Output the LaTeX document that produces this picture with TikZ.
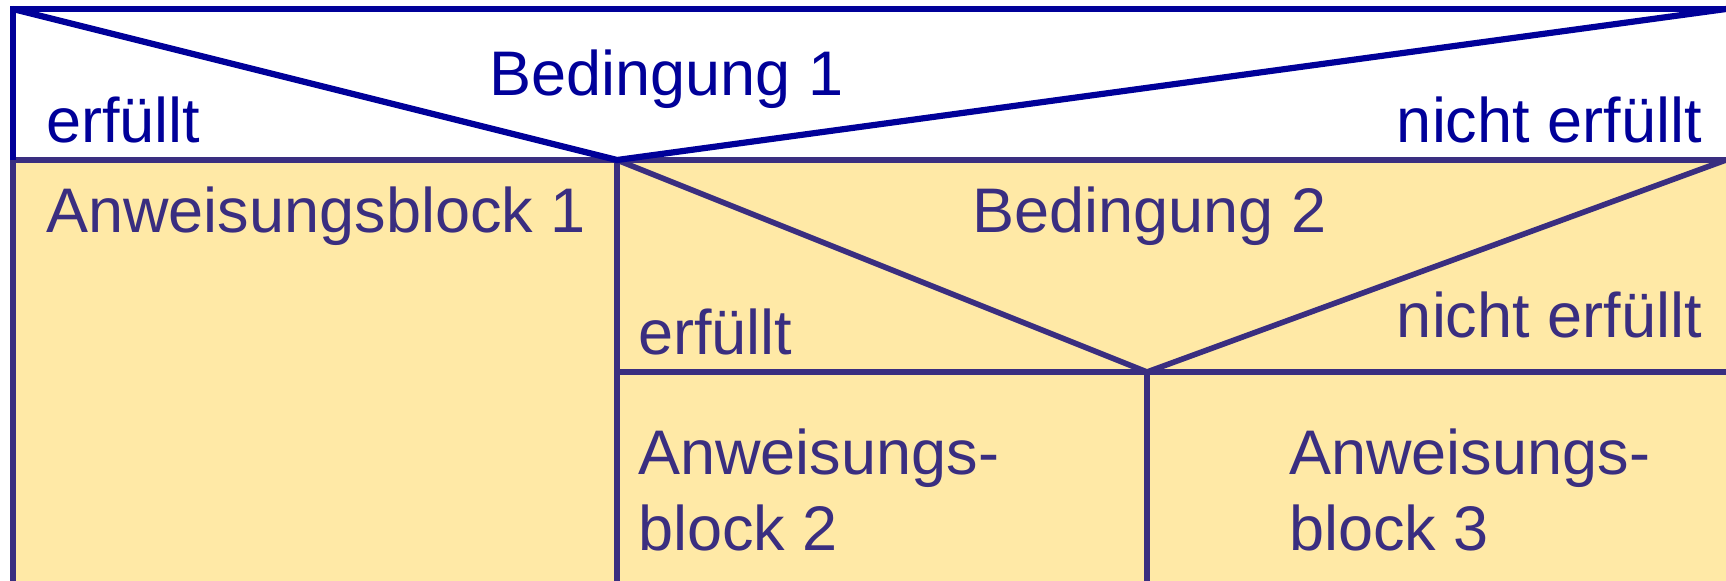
\documentclass[tikz,border=0pt]{standalone}
\usepackage{fontspec}
\setmainfont{Liberation Sans}
\definecolor{topblue}{HTML}{000099}
\definecolor{lowblue}{HTML}{3A2E80}
\definecolor{fillyellow}{HTML}{FFE9A6}
\begin{document}
\begin{tikzpicture}[x=0.5pt,y=-0.5pt,
  topline/.style={draw=topblue,line width=3.1pt,line join=miter},
  lowline/.style={draw=lowblue,line width=2.8pt,line join=miter},
  toptext/.style={text=topblue,inner sep=0pt,font=\fontsize{31.5pt}{37.5pt}\selectfont},
  lowtext/.style={text=lowblue,inner sep=0pt,font=\fontsize{31.5pt}{37.5pt}\selectfont}]
\useasboundingbox (0,0) rectangle (1726,580);
\fill[white] (0,0) rectangle (1726,580);
\fill[fillyellow] (13,160) rectangle (1730,590);
% coordinates
\coordinate (TL) at (13,9);
\coordinate (TR) at (1730,9);
\coordinate (TRd) at (1726,9);
\coordinate (L1) at (13,160);
\coordinate (J1) at (617,160);
\coordinate (R1) at (1730,160);
\coordinate (R1d) at (1726,160);
\coordinate (L2) at (617,372);
\coordinate (J2) at (1147,372);
\coordinate (R2) at (1730,372);
\coordinate (BL) at (13,590);
\coordinate (B1) at (617,590);
\coordinate (B2) at (1147,590);
% lower structure
\draw[lowline] (L1) -- (BL);
\draw[lowline] (L1) -- (R1);
\draw[lowline] (J1) -- (B1);
\draw[lowline] (J1) -- (J2) -- (R1d);
\draw[lowline] (L2) -- (R2);
\draw[lowline] (J2) -- (B2);
% top structure
\draw[topline] (TR) -- (TL) -- (L1);
\draw[topline] (TL) -- (J1) -- (TRd);
% texts
\node[toptext,anchor=base west] (b1) at (489,95) {Bedingung 1};
\node[toptext,anchor=base west] (e1) at (46,142) {erfüllt};
\node[toptext,anchor=base east] (n1) at (1702,142) {nicht erfüllt};
\node[lowtext,anchor=base west] (a1) at (46,232) {Anweisungsblock 1};
\node[lowtext,anchor=base west] (b2) at (972,232) {Bedingung 2};
\node[lowtext,anchor=base west] (e2) at (638,354) {erfüllt};
\node[lowtext,anchor=base east] (n2) at (1702,337) {nicht erfüllt};
\node[lowtext,anchor=base west] (a2a) at (638,474) {Anweisungs-};
\node[lowtext,anchor=base west] (a2b) at (638,550) {block 2};
\node[lowtext,anchor=base west] (a3a) at (1289,474) {Anweisungs-};
\node[lowtext,anchor=base west] (a3b) at (1289,550) {block 3};
\end{tikzpicture}
\end{document}
